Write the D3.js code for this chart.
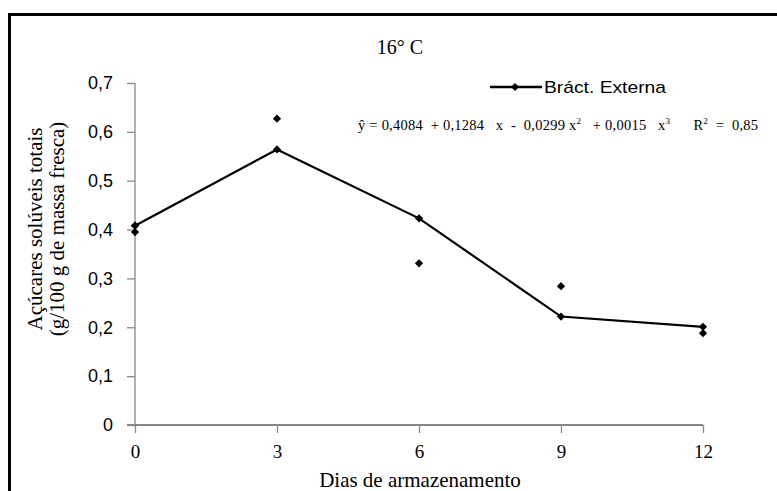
<!DOCTYPE html>
<html><head><meta charset="utf-8">
<script src="https://cdn.jsdelivr.net/npm/d3@7"></script>
<style>body{margin:0;background:#fff}svg{display:block}</style>
</head><body>
<svg id="c" width="777" height="491"></svg>
<script>
const days = [0, 3, 6, 9, 12];
const fitted = [0.408, 0.564, 0.423, 0.222, 0.201];
const obsDays = [0, 0, 3, 6, 9, 12];
const obsValues = [0.395, 0.408, 0.627, 0.331, 0.284, 0.188];
const yTicks = [0, 0.1, 0.2, 0.3, 0.4, 0.5, 0.6, 0.7];
const xTicks = [0, 3, 6, 9, 12];
const title = "16° C";
const seriesName = "Bráct. Externa";
const yTitle = ["Açúcares solúveis totais", "(g/100 g de massa fresca)"];
const xTitle = "Dias de armazenamento";

const svg = d3.select("#c");
const serif = "'Liberation Serif','Times New Roman',serif";
const sans = "'Liberation Sans',Arial,sans-serif";
const x = d3.scaleLinear().domain([0, 12]).range([135, 703]);
const y = d3.scaleLinear().domain([0, 0.7]).range([425, 83]);

// frame
svg.append("rect").attr("x", 9.5).attr("y", 14.5).attr("width", 800).attr("height", 500)
  .attr("fill", "none").attr("stroke", "#000").attr("stroke-width", 3);

// axes
const yAxis = svg.append("g").attr("transform", "translate(135,0)")
  .call(d3.axisLeft(y).tickValues(yTicks).tickSize(8).tickPadding(14)
    .tickFormat(d => d === 0 ? "0" : d3.format(".1f")(d).replace(".", ",")));
const xAxis = svg.append("g").attr("transform", "translate(0,425)")
  .call(d3.axisBottom(x).tickValues(xTicks).tickSize(8).tickPadding(12).tickFormat(d => d));
[yAxis, xAxis].forEach(g => {
  g.select(".domain").attr("stroke", "#888");
  g.selectAll(".tick line").attr("stroke", "#888").attr("stroke-width", 1.3);
  g.selectAll("text").attr("fill", "#000");
});
yAxis.selectAll("text").attr("font-family", sans).attr("font-size", 18);
xAxis.selectAll("text").attr("font-family", serif).attr("font-size", 19);
yAxis.select(".domain").attr("d", "M0,83V425").attr("stroke-width", 1.3);
xAxis.select(".domain").attr("d", "M127,0H703").attr("stroke-width", 2.2);

// line
svg.append("path").datum(days.map((d, i) => [d, fitted[i]]))
  .attr("d", d3.line().x(d => x(d[0])).y(d => y(d[1])))
  .attr("fill", "none").attr("stroke", "#000").attr("stroke-width", 2.2);

const diamond = d3.symbol().type(d3.symbolSquare).size(34);
svg.append("g").selectAll("path").data(days.map((d, i) => [d, fitted[i]]).concat(obsDays.map((d, i) => [d, obsValues[i]])))
  .join("path").attr("d", diamond).attr("transform", d => `translate(${x(d[0])},${y(d[1])}) rotate(45)`).attr("fill", "#000");

// title
svg.append("text").attr("x", 400).attr("y", 54).attr("text-anchor", "middle")
  .attr("font-family", serif).attr("font-size", 20).text(title);

// y title
yTitle.forEach((t, i) => {
  svg.append("text").attr("transform", `translate(${42 + i * 22},229) rotate(-90)`)
    .attr("text-anchor", "middle").attr("font-family", serif).attr("font-size", 21).text(t);
});
// x title
svg.append("text").attr("x", 420).attr("y", 487).attr("text-anchor", "middle")
  .attr("font-family", serif).attr("font-size", 21).text(xTitle);

// legend
svg.append("line").attr("x1", 490).attr("x2", 542).attr("y1", 87).attr("y2", 87)
  .attr("stroke", "#000").attr("stroke-width", 2.5);
svg.append("path").attr("d", diamond).attr("transform", "translate(515,87) rotate(45)");
svg.append("text").attr("x", 544).attr("y", 93).attr("font-family", sans)
  .attr("font-size", 17).attr("textLength", 122).attr("lengthAdjust", "spacingAndGlyphs").text(seriesName);

// equation
const eq = svg.append("text").attr("x", 358).attr("y", 130).attr("font-family", serif).attr("font-size", 14.5)
  .style("white-space", "pre");
eq.append("tspan").text("ŷ = 0,4084  + 0,1284   x  -  0,0299 x");
eq.append("tspan").attr("dy", -6).attr("font-size", 9).text("2");
eq.append("tspan").attr("dy", 6).text("   + 0,0015   x");
eq.append("tspan").attr("dy", -6).attr("font-size", 9).text("3");
eq.append("tspan").attr("dy", 6).text("      R");
eq.append("tspan").attr("dy", -6).attr("font-size", 9).text("2");
eq.append("tspan").attr("dy", 6).text("  =  0,85");
eq.attr("textLength", 400).attr("lengthAdjust", "spacing");
</script>
</body></html>
